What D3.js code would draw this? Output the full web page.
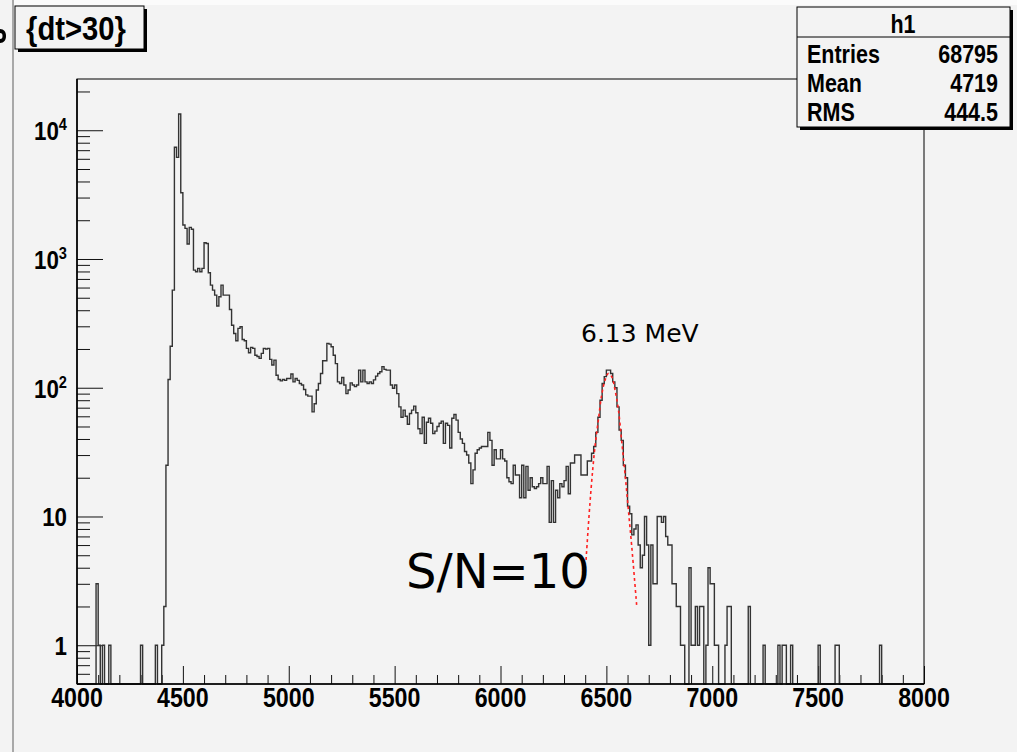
<!DOCTYPE html>
<html>
<head>
<meta charset="utf-8">
<script src="https://cdn.jsdelivr.net/npm/d3@7/dist/d3.min.js"></script>
<style>
  body { margin: 0; background: #f3f3f3; }
  svg { display: block; }
  .root { font-family: "Liberation Sans", Arial, sans-serif; font-weight: bold; }
</style>
</head>
<body>
<svg id="chart" width="1017" height="752"></svg>
<script>
// histogram h1 : 400 bins of 10 keV from 4000 to 8000 (counts)
const binStart = 4000
const binWidth = 10
const counts = [
  0,0,0,0,0,0,0,0,0,3,                              // 4000
  1,0,1,0,0,1,0,0,0,0,                              // 4100
  0,0,0,0,0,0,0,0,0,0,                              // 4200
  1,0,0,0,0,0,0,1,0,0,                              // 4300
  1,2,25,116,210,573,7370,6160,13370,3270,          // 4400
  1835,1730,1306,1760,1700,820,796,845,796,845,     // 4500
  1337,1320,781,627,573,524,431,509,627,524,        // 4600
  524,524,405,306,264,232,289,298,237,232,          // 4700
  202,187,206,202,179,175,169,185,202,200,          // 4800
  202,166,150,164,125,116,113,116,114,118,          // 4900
  118,128,111,118,114,108,105,97,88,86,             // 5000
  86,65,75,96,108,129,162,162,221,218,              // 5100
  208,179,154,111,108,120,105,90,96,109,            // 5200
  105,102,105,137,111,137,111,108,111,108,          // 5300
  115,123,129,133,146,139,137,137,105,99,           // 5400
  105,90,71,59,67,60,52,63,67,72,                   // 5500
  64,48,44,59,37,54,58,53,44,46,                    // 5600
  50,53,55,37,53,51,34,58,62,56,                    // 5700
  45,40,37,32,30,26,18,23,31,33,                    // 5800
  34,35,35,35,45,39,25,33,28,28,                    // 5900
  33,28,27,20,18.6,18,25,21,21,14,                  // 6000
  25,14,24.5,16,20,17,16.5,17,18,20,                // 6100
  18,18,24.5,9,19,9,16,14,18,17,                    // 6200
  19,24.5,15,26,26,30,30,30,21,21,                  // 6300
  21,27,27,31,35,45,59,80,108,122,                  // 6400
  137,137,129,111,100,71,47,39,25,20,               // 6500
  12,10.5,7.2,8,8.6,6,4,5,10,6,                     // 6600
  1,6,3,3,10,10,9,10,7,6,                           // 6700
  6,3,3,2,2,1,1,0,0,4,                              // 6800
  1,1,2,1,2,2,0,1,4,3,                              // 6900
  3,1,1,0,0,0,1,2,2,0,                              // 7000
  0,0,0,0,0,0,0,2,0,0,                              // 7100
  0,0,0,0,1,0,0,0,0,0,                              // 7200
  0,1,0,1,1,0,0,1,0,0,                              // 7300
  0,0,0,0,0,0,0,0,0,0,                              // 7400
  1,0,0,0,0,0,0,0,1,1,                              // 7500
  0,0,0,0,0,0,0,0,0,0,                              // 7600
  0,0,0,0,0,0,0,0,0,1,                              // 7700
  0,0,0,0,0,0,0,0,0,0,                              // 7800
  0,0,0,0,0,0,0,0,0,0                               // 7900
]

// gaussian fit on the 6.13 MeV line
const fitEnergy = [6404, 6426, 6446, 6462, 6478, 6494, 6509, 6525, 6541, 6557, 6572, 6588, 6604, 6620, 6643]
const fitCounts = [4.6, 15.1, 34.7, 56, 88, 115, 129, 122, 96, 67, 39, 21.6, 11.2, 5.8, 2.05]

const xMajorTicks = [4000, 4500, 5000, 5500, 6000, 6500, 7000, 7500, 8000]
const yMajorTicks = [1, 10, 100, 1000, 10000]
const yLabels = [["1", ""], ["10", ""], ["10", "2"], ["10", "3"], ["10", "4"]]

const statsTitle = "h1"
const statNames = ["Entries", "Mean", "RMS"]
const statValues = ["68795", "4719", "444.5"]
const cutTitle = "{dt>30}"

const frame = {left: 77, right: 924, top: 79, bottom: 684}
const narrow = 0.86   // ROOT helvetica bold looks condensed
const svg = d3.select('#chart')

// canvas
svg.append('rect').attr('x', 0).attr('y', 0).attr('width', 1017).attr('height', 752).attr('fill', '#f3f3f3')
svg.append('rect').attr('x', 14).attr('y', 0).attr('width', 1003).attr('height', 5).attr('fill', '#fbfbfb')
svg.append('line').attr('x1', 13).attr('x2', 13).attr('y1', 0).attr('y2', 752)
  .attr('stroke', '#a8a8a8').attr('stroke-width', 2)
// piece of a glyph cut by the left edge
svg.append('path').attr('d', 'M0,29 C4,29 6,32 6,36 C6,40 4,43 0,43 L0,39 C2,39 2.5,38 2.5,36 C2.5,34 2,33 0,33 Z')
  .attr('fill', '#000')

const x = d3.scaleLinear().domain([4000, 8000]).range([frame.left, frame.right])
const y = d3.scaleLog().domain([0.5, 25000]).range([frame.bottom, frame.top])

const plot = svg.append('g').attr('class', 'root')

// x ticks (inward)
const xMinor = d3.range(4000, 8001, 100).filter(v => v % 500 !== 0)
plot.append('g').attr('transform', `translate(0,${frame.bottom})`)
  .call(d3.axisBottom(x).tickValues(xMinor).tickSize(-9).tickFormat(''))
  .call(g => g.select('.domain').remove())
plot.append('g').attr('transform', `translate(0,${frame.bottom})`)
  .call(d3.axisBottom(x).tickValues(xMajorTicks).tickSize(-18).tickFormat(''))
  .call(g => g.select('.domain').remove())

// y ticks (inward)
const yMinor = []
for (let e = -1; e <= 4; e++) {
  for (let k = 2; k <= 9; k++) {
    const v = k * Math.pow(10, e)
    if (v >= 0.5 && v <= 25000) yMinor.push(v)
  }
}
plot.append('g').attr('transform', `translate(${frame.left},0)`)
  .call(d3.axisLeft(y).tickValues(yMinor).tickSize(-13).tickFormat(''))
  .call(g => g.select('.domain').remove())
plot.append('g').attr('transform', `translate(${frame.left},0)`)
  .call(d3.axisLeft(y).tickValues(yMajorTicks).tickSize(-26).tickFormat(''))
  .call(g => g.select('.domain').remove())
plot.selectAll('.tick line').attr('stroke', '#111').attr('stroke-width', 1)

// histogram as steps
const ymin = y.domain()[0]
let path = `M${x(binStart)},${y(Math.max(counts[0], ymin))}`
counts.forEach((c, i) => {
  const yy = y(Math.max(c, ymin))
  path += `V${yy}H${x(binStart + (i + 1) * binWidth)}`
})
plot.append('path').attr('d', path).attr('fill', 'none')
  .attr('stroke', '#333').attr('stroke-width', 1.4)

// fit
const fitLine = d3.line().x(d => x(d[0])).y(d => y(d[1])).curve(d3.curveCatmullRom)
plot.append('path').datum(fitEnergy.map((e, i) => [e, fitCounts[i]]))
  .attr('d', fitLine).attr('fill', 'none').attr('stroke', '#ff2020')
  .attr('stroke-width', 1.6).attr('stroke-dasharray', '3,3')

// frame
plot.append('rect').attr('x', frame.left).attr('y', frame.top)
  .attr('width', frame.right - frame.left).attr('height', frame.bottom - frame.top)
  .attr('fill', 'none').attr('stroke', '#000').attr('stroke-width', 1)
plot.append('line').attr('x1', frame.left).attr('x2', frame.right)
  .attr('y1', frame.bottom).attr('y2', frame.bottom).attr('stroke', '#000').attr('stroke-width', 1.6)
plot.append('line').attr('x1', frame.left).attr('x2', frame.left)
  .attr('y1', frame.top).attr('y2', frame.bottom).attr('stroke', '#000').attr('stroke-width', 1.6)

// axis labels (condensed bold)
plot.append('g').selectAll('text').data(xMajorTicks).join('text')
  .attr('transform', d => `translate(${x(d)},707) scale(${narrow},1)`)
  .attr('text-anchor', 'middle').attr('font-size', 27).attr('fill', '#000').text(d => d)

const yl = plot.append('g').selectAll('text').data(yMajorTicks).join('text')
  .attr('transform', d => `translate(67,${y(d) + 10}) scale(${narrow},1)`)
  .attr('text-anchor', 'end').attr('font-size', 26).attr('fill', '#000')
yl.append('tspan').text((d, i) => yLabels[i][0])
yl.append('tspan').attr('dy', -10).attr('font-size', 17).text((d, i) => yLabels[i][1])

// annotations
svg.append('text').attr('x', 581).attr('y', 342).attr('font-family', 'DejaVu Sans, sans-serif')
  .attr('font-size', 25).attr('fill', '#000').text('6.13 MeV')
svg.append('text').attr('x', 406).attr('y', 588).attr('font-family', 'DejaVu Sans, sans-serif')
  .attr('font-size', 48).attr('fill', '#000').text('S/N=10')

// cut title box
const tb = svg.append('g').attr('class', 'root')
tb.append('rect').attr('x', 18).attr('y', 9).attr('width', 129).attr('height', 43).attr('fill', '#000')
tb.append('rect').attr('x', 15).attr('y', 6).attr('width', 129).attr('height', 43)
  .attr('fill', '#f3f3f3').attr('stroke', '#000').attr('stroke-width', 1)
tb.append('text').attr('transform', `translate(76,40) scale(${narrow},1)`).attr('text-anchor', 'middle')
  .attr('font-size', 34).attr('fill', '#000').text(cutTitle)

// stats box
const sb = svg.append('g').attr('class', 'root')
sb.append('rect').attr('x', 800).attr('y', 10).attr('width', 213).attr('height', 120).attr('fill', '#000')
sb.append('rect').attr('x', 797).attr('y', 7).attr('width', 213).attr('height', 120)
  .attr('fill', '#f3f3f3').attr('stroke', '#000').attr('stroke-width', 1)
sb.append('line').attr('x1', 797).attr('x2', 1010).attr('y1', 37).attr('y2', 37)
  .attr('stroke', '#000').attr('stroke-width', 1)
sb.append('text').attr('transform', `translate(903,33) scale(${narrow},1)`).attr('text-anchor', 'middle')
  .attr('font-size', 25).text(statsTitle)
sb.selectAll('text.name').data(statNames).join('text').attr('class', 'name')
  .attr('transform', (d, i) => `translate(807,${63 + i * 29}) scale(${narrow},1)`)
  .attr('font-size', 25).text(d => d)
sb.selectAll('text.val').data(statValues).join('text').attr('class', 'val')
  .attr('transform', (d, i) => `translate(998,${63 + i * 29}) scale(${narrow},1)`)
  .attr('text-anchor', 'end').attr('font-size', 25).text(d => d)
</script>
</body>
</html>
